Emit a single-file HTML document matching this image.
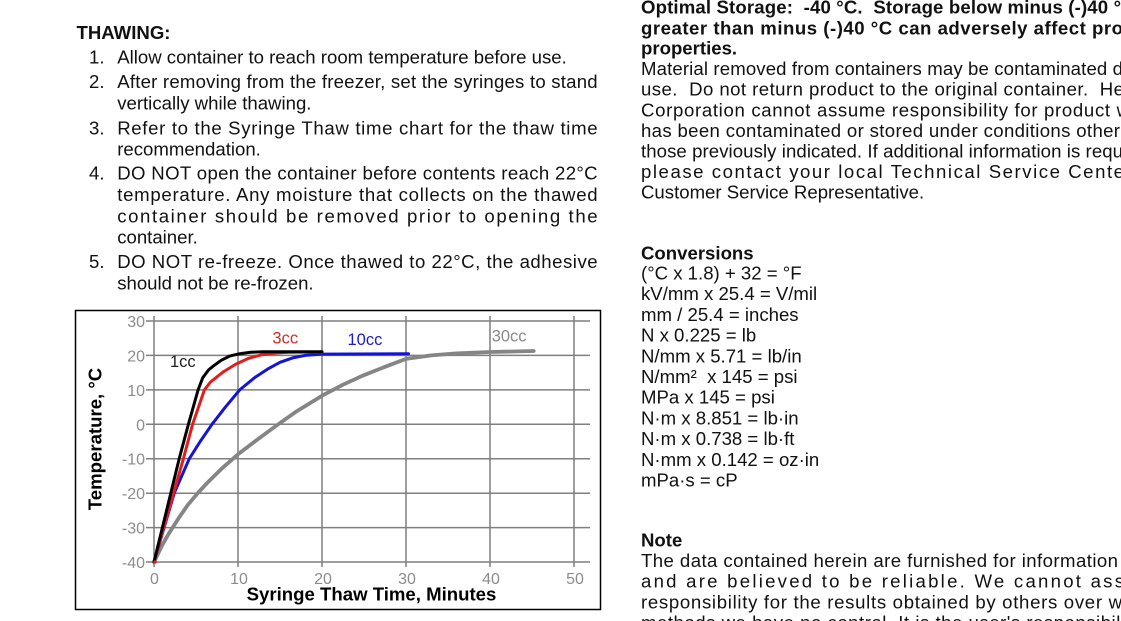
<!DOCTYPE html>
<html>
<head>
<meta charset="utf-8">
<style>
  html, body { margin:0; padding:0; background:#fff; }
  body { width:1121px; height:621px; overflow:hidden; }
  svg { display:block; }
  text { font-family: "Liberation Sans", Arial, sans-serif; white-space: pre; }
  .b { font-size:18.6px; fill:#111; }
  .bb { font-size:18.6px; fill:#111; font-weight:bold; }
  .tick { font-size:16px; fill:#8c8c8c; }
  .lab { font-size:16.5px; }
</style>
</head>
<body>
<svg width="1121" height="621" viewBox="0 0 1121 621" xmlns="http://www.w3.org/2000/svg">
  <rect x="0" y="0" width="1121" height="621" fill="#fff"/>

  <!-- LEFT COLUMN -->
  <text class="bb" x="76.5" y="39">THAWING:</text>
  <text class="b" x="89" y="63.5">1.</text>
  <text class="b" x="117.2" y="63.5">Allow container to reach room temperature before use.</text>
  <text class="b" x="89" y="88">2.</text>
  <text class="b" x="117.2" y="88" textLength="480.4" lengthAdjust="spacing">After removing from the freezer, set the syringes to stand</text>
  <text class="b" x="117.2" y="109.5">vertically while thawing.</text>
  <text class="b" x="89" y="134.5">3.</text>
  <text class="b" x="117.2" y="134.5" textLength="480.4" lengthAdjust="spacing">Refer to the Syringe Thaw time chart for the thaw time</text>
  <text class="b" x="117.2" y="155.5">recommendation.</text>
  <text class="b" x="89" y="179.5">4.</text>
  <text class="b" x="117.2" y="179.5" textLength="480.4" lengthAdjust="spacing">DO NOT open the container before contents reach 22°C</text>
  <text class="b" x="117.2" y="201" textLength="480.4" lengthAdjust="spacing">temperature. Any moisture that collects on the thawed</text>
  <text class="b" x="117.2" y="222.3" textLength="480.4" lengthAdjust="spacing">container should be removed prior to opening the</text>
  <text class="b" x="117.2" y="243.7">container.</text>
  <text class="b" x="89" y="268">5.</text>
  <text class="b" x="117.2" y="268" textLength="480.4" lengthAdjust="spacing">DO NOT re-freeze. Once thawed to 22°C, the adhesive</text>
  <text class="b" x="117.2" y="289.5">should not be re-frozen.</text>

  <!-- RIGHT COLUMN -->
  <text class="bb" x="641" y="13.3" textLength="480" lengthAdjust="spacing">Optimal Storage:  -40 °C.  Storage below minus (-)40 °</text>
  <text class="bb" x="641" y="34.3" textLength="482" lengthAdjust="spacing">greater than minus (-)40 °C can adversely affect pro</text>
  <text class="bb" x="641" y="54.5">properties.</text>
  <text class="b" x="641" y="75" textLength="482" lengthAdjust="spacing">Material removed from containers may be contaminated d</text>
  <text class="b" x="641" y="95.7" textLength="483" lengthAdjust="spacing">use.  Do not return product to the original container.  He</text>
  <text class="b" x="641" y="116.3" textLength="489" lengthAdjust="spacing">Corporation cannot assume responsibility for product w</text>
  <text class="b" x="641" y="137" textLength="479" lengthAdjust="spacing">has been contaminated or stored under conditions other</text>
  <text class="b" x="641" y="157.5" textLength="482" lengthAdjust="spacing">those previously indicated. If additional information is requ</text>
  <text class="b" x="641" y="178" textLength="483" lengthAdjust="spacing">please contact your local Technical Service Cente</text>
  <text class="b" x="641" y="198.5">Customer Service Representative.</text>

  <text class="bb" x="641" y="259.3">Conversions</text>
  <text class="b" x="641" y="279.5">(°C x 1.8) + 32 = °F</text>
  <text class="b" x="641" y="300.2">kV/mm x 25.4 = V/mil</text>
  <text class="b" x="641" y="320.9">mm / 25.4 = inches</text>
  <text class="b" x="641" y="341.6">N x 0.225 = lb</text>
  <text class="b" x="641" y="362.3">N/mm x 5.71 = lb/in</text>
  <text class="b" x="641" y="383">N/mm²  x 145 = psi</text>
  <text class="b" x="641" y="403.7">MPa x 145 = psi</text>
  <text class="b" x="641" y="424.4">N·m x 8.851 = lb·in</text>
  <text class="b" x="641" y="445.1">N·m x 0.738 = lb·ft</text>
  <text class="b" x="641" y="465.8">N·mm x 0.142 = oz·in</text>
  <text class="b" x="641" y="486.5">mPa·s = cP</text>

  <text class="bb" x="641" y="546.5">Note</text>
  <text class="b" x="641" y="567" textLength="477" lengthAdjust="spacing">The data contained herein are furnished for information</text>
  <text class="b" x="641" y="587.7" textLength="483" lengthAdjust="spacing">and are believed to be reliable. We cannot ass</text>
  <text class="b" x="641" y="608.5" textLength="481" lengthAdjust="spacing">responsibility for the results obtained by others over w</text>
  <text class="b" x="641" y="629.2" textLength="484" lengthAdjust="spacing">methods we have no control. It is the user's responsibili</text>

  <!-- CHART -->
  <rect x="75.5" y="310.5" width="525" height="299" fill="none" stroke="#000" stroke-width="1.5"/>

  <g stroke="#7f7f7f" stroke-width="1.5" fill="none">
    <line x1="146" y1="321" x2="590" y2="321"/>
    <line x1="146" y1="355.4" x2="590" y2="355.4"/>
    <line x1="146" y1="389.9" x2="590" y2="389.9"/>
    <line x1="146" y1="424.3" x2="590" y2="424.3"/>
    <line x1="146" y1="458.7" x2="590" y2="458.7"/>
    <line x1="146" y1="493.2" x2="590" y2="493.2"/>
    <line x1="146" y1="527.6" x2="590" y2="527.6"/>
    <line x1="146" y1="562" x2="590" y2="562"/>
    <line x1="154" y1="316" x2="154" y2="567"/>
    <line x1="238" y1="316" x2="238" y2="567"/>
    <line x1="322" y1="316" x2="322" y2="567"/>
    <line x1="406" y1="316" x2="406" y2="567"/>
    <line x1="490" y1="316" x2="490" y2="567"/>
    <line x1="574" y1="316" x2="574" y2="567"/>
  </g>

  <g class="tick" text-anchor="end">
    <text x="145" y="327">30</text>
    <text x="145" y="361.4">20</text>
    <text x="145" y="395.9">10</text>
    <text x="145" y="430.3">0</text>
    <text x="145" y="464.7">-10</text>
    <text x="145" y="499.2">-20</text>
    <text x="145" y="533.6">-30</text>
    <text x="145" y="568">-40</text>
  </g>
  <g class="tick" text-anchor="middle">
    <text x="154.5" y="584">0</text>
    <text x="239" y="584">10</text>
    <text x="323" y="584">20</text>
    <text x="407" y="584">30</text>
    <text x="491" y="584">40</text>
    <text x="575" y="584">50</text>
  </g>

  <text x="371.5" y="600.5" text-anchor="middle" style="font-size:18.6px;font-weight:bold;fill:#000;">Syringe Thaw Time, Minutes</text>
  <text transform="translate(101.5,439) rotate(-90)" text-anchor="middle" style="font-size:18.6px;font-weight:bold;fill:#000;">Temperature, °C</text>

  <!-- series -->
  <g fill="none" stroke-linejoin="round" stroke-linecap="round">
    <polyline stroke="#858585" stroke-width="3.8" points="154,562 162.4,544.8 169.1,533.1 179.2,517.3 187.6,505.2 197.7,493.2 207.3,482.8 221.2,469.1 238,454.3 254.8,441.5 275.8,426 296.8,411.2 322,395.7 343,384.7 362.3,375.8 385,366.8 406,358.9 431.2,355.4 456.4,353.4 490,352 533.7,351"/>
    <polyline stroke="#1414d8" stroke-width="3" points="154,562 164.1,527.6 174.2,493.2 181.7,476 189.3,458.7 200.2,441.5 212,424.3 225.4,407.1 239.7,389.9 254.8,377.5 267.4,369.2 280,362.3 292.6,357.9 305.2,355.4 322,354.1 408.5,353.7"/>
    <polyline stroke="#e01e1e" stroke-width="3" points="154,562 183.4,458.7 192.6,424.3 204.4,389.9 210.3,382.3 217,376.8 223.7,371.6 235.5,364.4 248.1,358.5 261.5,354.8 275.8,353 288.4,352.3 322,352"/>
    <polyline stroke="#000" stroke-width="3" points="154,562 179.2,458.7 188.4,424.3 198.1,389.9 202.7,377.8 208.6,369.9 213.6,365.8 221.2,360.3 229.6,356.1 239.7,353.7 250.6,352.3 263.2,351.7 322,351.7"/>
  </g>
  <circle cx="155" cy="562" r="1.8" fill="#e01e1e"/>

  <text class="lab" x="170" y="367" fill="#222">1cc</text>
  <text class="lab" x="272.4" y="343.5" fill="#d42a2a">3cc</text>
  <text class="lab" x="347.5" y="345" fill="#1c1ccc">10cc</text>
  <text class="lab" x="491.7" y="341.7" fill="#8a8a8a">30cc</text>
</svg>
</body>
</html>
